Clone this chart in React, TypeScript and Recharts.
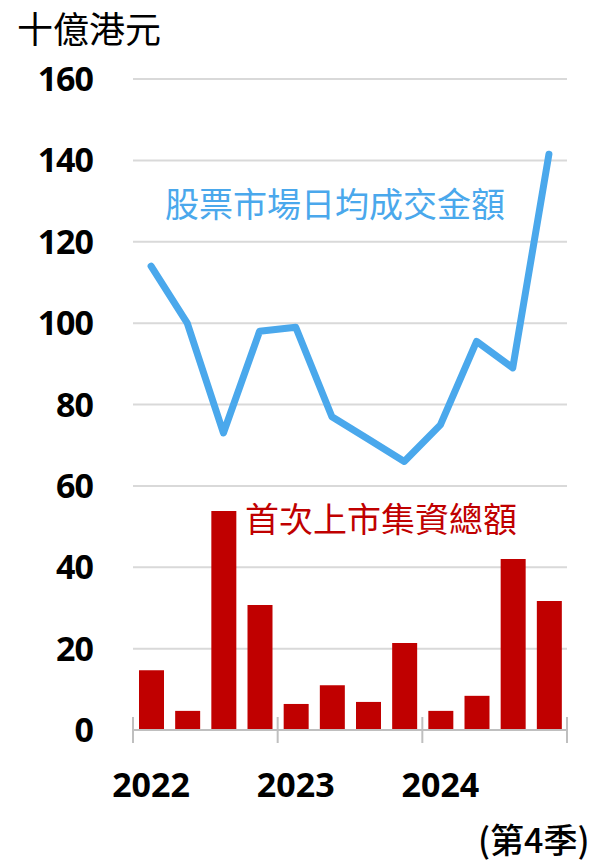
import React from 'react';
import { ComposedChart, Bar, Line, XAxis, YAxis, CartesianGrid } from 'recharts';

const quarters = ['2022Q1','2022Q2','2022Q3','2022Q4','2023Q1','2023Q2','2023Q3','2023Q4','2024Q1','2024Q2','2024Q3','2024Q4'];
const turnover = [114, 100, 73, 98, 99, 77, 71.5, 66, 75, 95.5, 89, 141.5];
const ipoFunds = [14.7, 4.7, 53.8, 30.7, 6.4, 11, 6.9, 21.4, 4.7, 8.4, 42, 31.7];
const yearLabels = ['2022', '2023', '2024'];
const yTicks = [0, 20, 40, 60, 80, 100, 120, 140, 160];

const data = quarters.map((q, i) => ({ q, pos: i + 0.5, turnover: turnover[i], ipo: ipoFunds[i] }));
const yearBoundaries = yearLabels.map((_, i) => i * 4).concat([quarters.length]);
const yearLabelPos = yearLabels.map((_, i) => i * 4 + 0.5);
const xTicks = [...yearBoundaries, ...yearLabelPos].sort((a, b) => a - b);

const CJK = '"Noto Sans CJK TC", "Noto Sans", sans-serif';
const NUM = '"Noto Sans", "Open Sans", sans-serif';

const XTick = (props: any) => {
  const { x, y, payload } = props;
  const v = payload.value;
  if (Number.isInteger(v)) {
    return <line x1={x} x2={x} y1={y - 13} y2={y + 13} stroke="#bfbfbf" strokeWidth={2} />;
  }
  const idx = yearLabelPos.indexOf(v);
  return (
    <text x={x} y={y + 67} textAnchor="middle" fontFamily={NUM} fontWeight={700} fontSize={34} fill="#000">
      {yearLabels[idx]}
    </text>
  );
};

const YTick = (props: any) => {
  const { x, y, payload } = props;
  return (
    <text x={x} y={y + 12} textAnchor="end" fontFamily={NUM} fontWeight={700} fontSize={34} fill="#000" letterSpacing={-1}>
      {payload.value}
    </text>
  );
};

export default function App() {
  return (
    <div style={{ position: 'absolute', left: 0, top: 0, width: 599, height: 862, background: '#fff' }}>
      <ComposedChart width={599} height={862} data={data} margin={{ top: 79, right: 32, bottom: 52, left: 0 }}>
        <CartesianGrid horizontal={true} vertical={false} stroke="#d9d9d9" strokeWidth={2} />
        <XAxis
          dataKey="pos"
          type="number"
          domain={[0, quarters.length]}
          ticks={xTicks}
          interval={0}
          allowDecimals
          tick={<XTick />}
          tickLine={false}
          tickSize={0}
          tickMargin={0}
          axisLine={{ stroke: '#bfbfbf', strokeWidth: 2 }}
          height={80}
        />
        <YAxis
          domain={[0, 160]}
          ticks={yTicks}
          interval={0}
          width={133}
          axisLine={false}
          tickLine={false}
          tickSize={0}
          tickMargin={40}
          tick={<YTick />}
        />
        <Bar dataKey="ipo" fill="#c00000" barSize={25} isAnimationActive={false} />
        <Line dataKey="turnover" stroke="#4aa8ec" strokeWidth={7} strokeLinejoin="round" strokeLinecap="round" dot={false} isAnimationActive={false} />
      </ComposedChart>
      <div style={{ position: 'absolute', left: 17, top: 3, fontFamily: CJK, fontSize: 36, lineHeight: '48px', color: '#000', whiteSpace: 'nowrap' }}>十億港元</div>
      <div style={{ position: 'absolute', left: 165, top: 180, fontFamily: CJK, fontSize: 34, lineHeight: '46px', color: '#4aa8ec', whiteSpace: 'nowrap' }}>股票市場日均成交金額</div>
      <div style={{ position: 'absolute', left: 245, top: 495, fontFamily: CJK, fontSize: 34, lineHeight: '46px', color: '#c00000', whiteSpace: 'nowrap' }}>首次上市集資總額</div>
      <div style={{ position: 'absolute', left: 478, top: 819, fontFamily: CJK, fontSize: 34, fontWeight: 500, lineHeight: '40px', color: '#000', whiteSpace: 'nowrap' }}>(第4季)</div>
    </div>
  );
}
